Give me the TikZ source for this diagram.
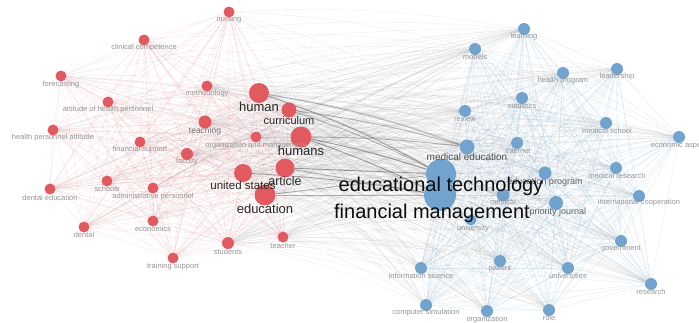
\documentclass[tikz,border=0pt]{standalone}
\usepackage{fontspec}
\setmainfont{Liberation Sans}
\usetikzlibrary{backgrounds}
\definecolor{rc}{RGB}{225,90,96}
\definecolor{bc}{RGB}{114,162,206}
\definecolor{rl}{RGB}{238,130,136}
\definecolor{bl}{RGB}{140,180,212}
\definecolor{lg}{RGB}{150,150,150}
\tikzset{
 rdot/.style={circle,fill=rc,inner sep=0pt,draw=none},
 bdot/.style={circle,fill=bc,inner sep=0pt,draw=none},
 ls/.style={font=\fontsize{7.5}{8}\selectfont,text=lg,inner sep=0pt},
 lsd/.style={font=\fontsize{8}{9}\selectfont,text=black!55,inner sep=0pt},
 lm/.style={font=\fontsize{9}{10}\selectfont,text=black!62,inner sep=0pt},
 lmd/.style={font=\fontsize{10}{11}\selectfont,text=black!70,inner sep=0pt},
 ll/.style={font=\fontsize{13}{14}\selectfont,text=black!85,inner sep=0pt},
 lx/.style={font=\fontsize{20}{22}\selectfont,text=black!95,inner sep=0pt},
 redge/.style={draw=rl,opacity=0.25,line width=0.3pt},
 bedge/.style={draw=bl,opacity=0.3,line width=0.3pt},
 xedge/.style={draw=gray,opacity=0.16,line width=0.3pt},
 dedge/.style={draw=black!70,opacity=0.5,line width=0.9pt},
}
\begin{document}
\begin{tikzpicture}[x=1pt,y=-1pt]
\useasboundingbox (0,0) rectangle (699,322);
% red cluster nodes
\node[rdot,minimum size=11pt] (nur) at (229,12) {};
\node[rdot,minimum size=11pt] (cli) at (144,40) {};
\node[rdot,minimum size=11pt] (fore) at (61,76) {};
\node[rdot,minimum size=11pt] (att) at (108,102) {};
\node[rdot,minimum size=11pt] (hpa) at (53,130) {};
\node[rdot,minimum size=11pt] (met) at (207,86) {};
\node[rdot,minimum size=20pt] (hum) at (259,93) {};
\node[rdot,minimum size=15pt] (cur) at (289,110) {};
\node[rdot,minimum size=13pt] (tea) at (205,122) {};
\node[rdot,minimum size=11pt] (fin) at (140,142) {};
\node[rdot,minimum size=12pt] (fac) at (187,154) {};
\node[rdot,minimum size=11pt] (org) at (256,137) {};
\node[rdot,minimum size=21pt] (hums) at (301,137) {};
\node[rdot,minimum size=18pt] (us) at (243,173) {};
\node[rdot,minimum size=19pt] (art) at (285,168) {};
\node[rdot,minimum size=21pt] (edu) at (265,195) {};
\node[rdot,minimum size=11pt] (sch) at (107,181) {};
\node[rdot,minimum size=11pt] (adm) at (153,188) {};
\node[rdot,minimum size=11pt] (den) at (50,189) {};
\node[rdot,minimum size=11pt] (eco) at (153,221) {};
\node[rdot,minimum size=11pt] (dent) at (84,227) {};
\node[rdot,minimum size=11pt] (tra) at (173,258) {};
\node[rdot,minimum size=12pt] (stu) at (228,243) {};
\node[rdot,minimum size=11pt] (tch) at (283,237) {};
% blue cluster nodes
\node[bdot,minimum size=12pt] (lea) at (524,29) {};
\node[bdot,minimum size=12pt] (mod) at (475,49) {};
\node[bdot,minimum size=12pt] (hpr) at (563,73) {};
\node[bdot,minimum size=12pt] (lead) at (617,69) {};
\node[bdot,minimum size=12pt] (sta) at (522,98) {};
\node[bdot,minimum size=12pt] (rev) at (465,111) {};
\node[bdot,minimum size=12pt] (msc) at (606,123) {};
\node[bdot,minimum size=12pt] (eca) at (679,137) {};
\node[bdot,minimum size=12pt] (int) at (517,143) {};
\node[bdot,minimum size=15pt] (med) at (467,147) {};
\node[bdot,minimum size=30pt] (et) at (441,174) {};
\node[bdot,minimum size=32pt] (fm) at (440,195) {};
\node[bdot,minimum size=13pt] (prg) at (545,173) {};
\node[bdot,minimum size=13pt] (mdc) at (503,195) {};
\node[bdot,minimum size=14pt] (pj) at (556,203) {};
\node[bdot,minimum size=11pt] (uni) at (471,220) {};
\node[bdot,minimum size=12pt] (mre) at (616,168) {};
\node[bdot,minimum size=12pt] (ico) at (639,196) {};
\node[bdot,minimum size=12pt] (gov) at (621,241) {};
\node[bdot,minimum size=12pt] (isc) at (421,268) {};
\node[bdot,minimum size=12pt] (pat) at (500,261) {};
\node[bdot,minimum size=12pt] (unis) at (568,268) {};
\node[bdot,minimum size=12pt] (res) at (651,284) {};
\node[bdot,minimum size=12pt] (csi) at (426,305) {};
\node[bdot,minimum size=12pt] (orgz) at (487,311) {};
\node[bdot,minimum size=12pt] (role) at (549,310) {};
\def\reds{nur,cli,fore,att,hpa,met,hum,cur,tea,fin,fac,org,hums,us,art,edu,sch,adm,den,eco,dent,tra,stu,tch}
\def\blues{lea,mod,hpr,lead,sta,rev,msc,eca,int,med,et,fm,prg,mdc,pj,uni,mre,ico,gov,isc,pat,unis,res,csi,orgz,role}
\begin{scope}[on background layer]
\fill[white] (0,0) rectangle (699,322);
\foreach \a [count=\i] in \reds {
  \foreach \b [count=\j] in \reds {\ifnum\i<\j \draw[redge] (\a) -- (\b);\fi}}
\foreach \a [count=\i] in \blues {
  \foreach \b [count=\j] in \blues {\ifnum\i<\j \draw[bedge] (\a) -- (\b);\fi}}
\foreach \a in {hum,hums,art,us,edu,cur,org,tea,met,fac,stu,tch} {
  \foreach \b in \blues {\draw[xedge] (\a) to[bend left=6] (\b);}}
\foreach \a in {nur,cli,fore,att,hpa,fin,sch,adm,den,eco,dent,tra} {
  \foreach \b in {et,fm,med,lea,mod,rev} {\draw[xedge] (\a) to[bend left=6] (\b);}}
\draw[dedge] (hum) to[bend left=5] (et);
\draw[dedge,opacity=0.35] (hum) to[bend left=5] (med);
\draw[dedge] (hums) to[bend left=3] (et);
\draw[dedge] (hums) to[bend left=3] (fm);
\draw[dedge,opacity=0.4] (hums) to[bend left=3] (med);
\draw[dedge] (art) to (et);
\draw[dedge,opacity=0.4] (art) to (fm);
\draw[dedge] (us) to[bend left=3] (fm);
\draw[dedge,opacity=0.4] (edu) to (fm);
\draw[dedge,opacity=0.4] (edu) to (et);
\draw[dedge,opacity=0.35] (cur) to[bend left=4] (et);
\draw[dedge,opacity=0.35] (cur) to[bend left=4] (med);
\end{scope}
% labels red
\node[ls] (nurL) at (229,19.5) {nursing};
\node[ls] (cliL) at (144,48) {clinical competence};
\node[ls] (foreL) at (61,85) {forecasting};
\node[ls] (attL) at (108,109.5) {attitude of health personnel};
\node[ls] (hpaL) at (53,138) {health personnel attitude};
\node[ls] (metL) at (207,94) {methodology};
\node[ls,text=black!55,font=\fontsize{8.5}{9}\selectfont] (teaL) at (205,131) {teaching};
\node[ls] (finL) at (140,149.5) {financial support};
\node[ls] (facL) at (187,162) {faculty};
\node[ls] (orgL) at (256,146) {organization and management};
\node[ls] (schL) at (107,189) {schools};
\node[ls] (admL) at (153,196.5) {administrative personnel};
\node[ls] (denL) at (50,197.5) {dental education};
\node[ls] (ecoL) at (153,229) {economics};
\node[ls] (dentL) at (84,235) {dental};
\node[ls] (traL) at (173,267) {training support};
\node[ls] (stuL) at (228,252) {students};
\node[ls] (tchL) at (283,246) {teacher};
% labels blue
\node[ls] (leaL) at (524,37) {learning};
\node[ls] (modL) at (475,57) {models};
\node[ls] (hprL) at (563,81) {health program};
\node[ls] (leadL) at (617,77) {leadership};
\node[ls] (staL) at (522,105.5) {statistics};
\node[ls] (revL) at (465,119) {review};
\node[ls] (mscL) at (607,131) {medical school};
\node[ls] (ecaL) at (679,146) {economic aspect};
\node[ls] (intL) at (518,151) {internet};
\node[ls] (mdcL) at (503,202) {medical};
\node[ls] (uniL) at (473,229) {university};
\node[ls] (mreL) at (617,176) {medical research};
\node[ls] (icoL) at (639,203) {international cooperation};
\node[ls] (govL) at (621,249) {government};
\node[ls] (iscL) at (421,276) {information science};
\node[ls] (patL) at (500,268.5) {patient};
\node[ls] (unisL) at (568,276) {universities};
\node[ls] (resL) at (651,292) {research};
\node[ls] (csiL) at (426,312.5) {computer simulation};
\node[ls] (orgzL) at (487,319.5) {organization};
\node[ls] (roleL) at (549,318) {role};
\node[lm] (prgL) at (545,182.5) {education program};
\node[lm] (pjL) at (558,212.5) {priority journal};
\node[lmd] (medL) at (467,157) {medical education};
% large labels
\node[ll,font=\fontsize{11}{12}\selectfont] (curL) at (289,120.5) {curriculum};
\node[ll] (humL) at (259,106.5) {human};
\node[ll,font=\fontsize{11.5}{12}\selectfont] (usL) at (243,185) {united states};
\node[ll,font=\fontsize{12.5}{13}\selectfont] (artL) at (285,181.5) {article};
\node[ll] (humsL) at (301,151) {humans};
\node[ll] (eduL) at (265,209) {education};
\node[lx] (etL) at (441,186.5) {educational technology};
\node[lx] (fmL) at (432,213) {financial management};
\end{tikzpicture}
\end{document}
